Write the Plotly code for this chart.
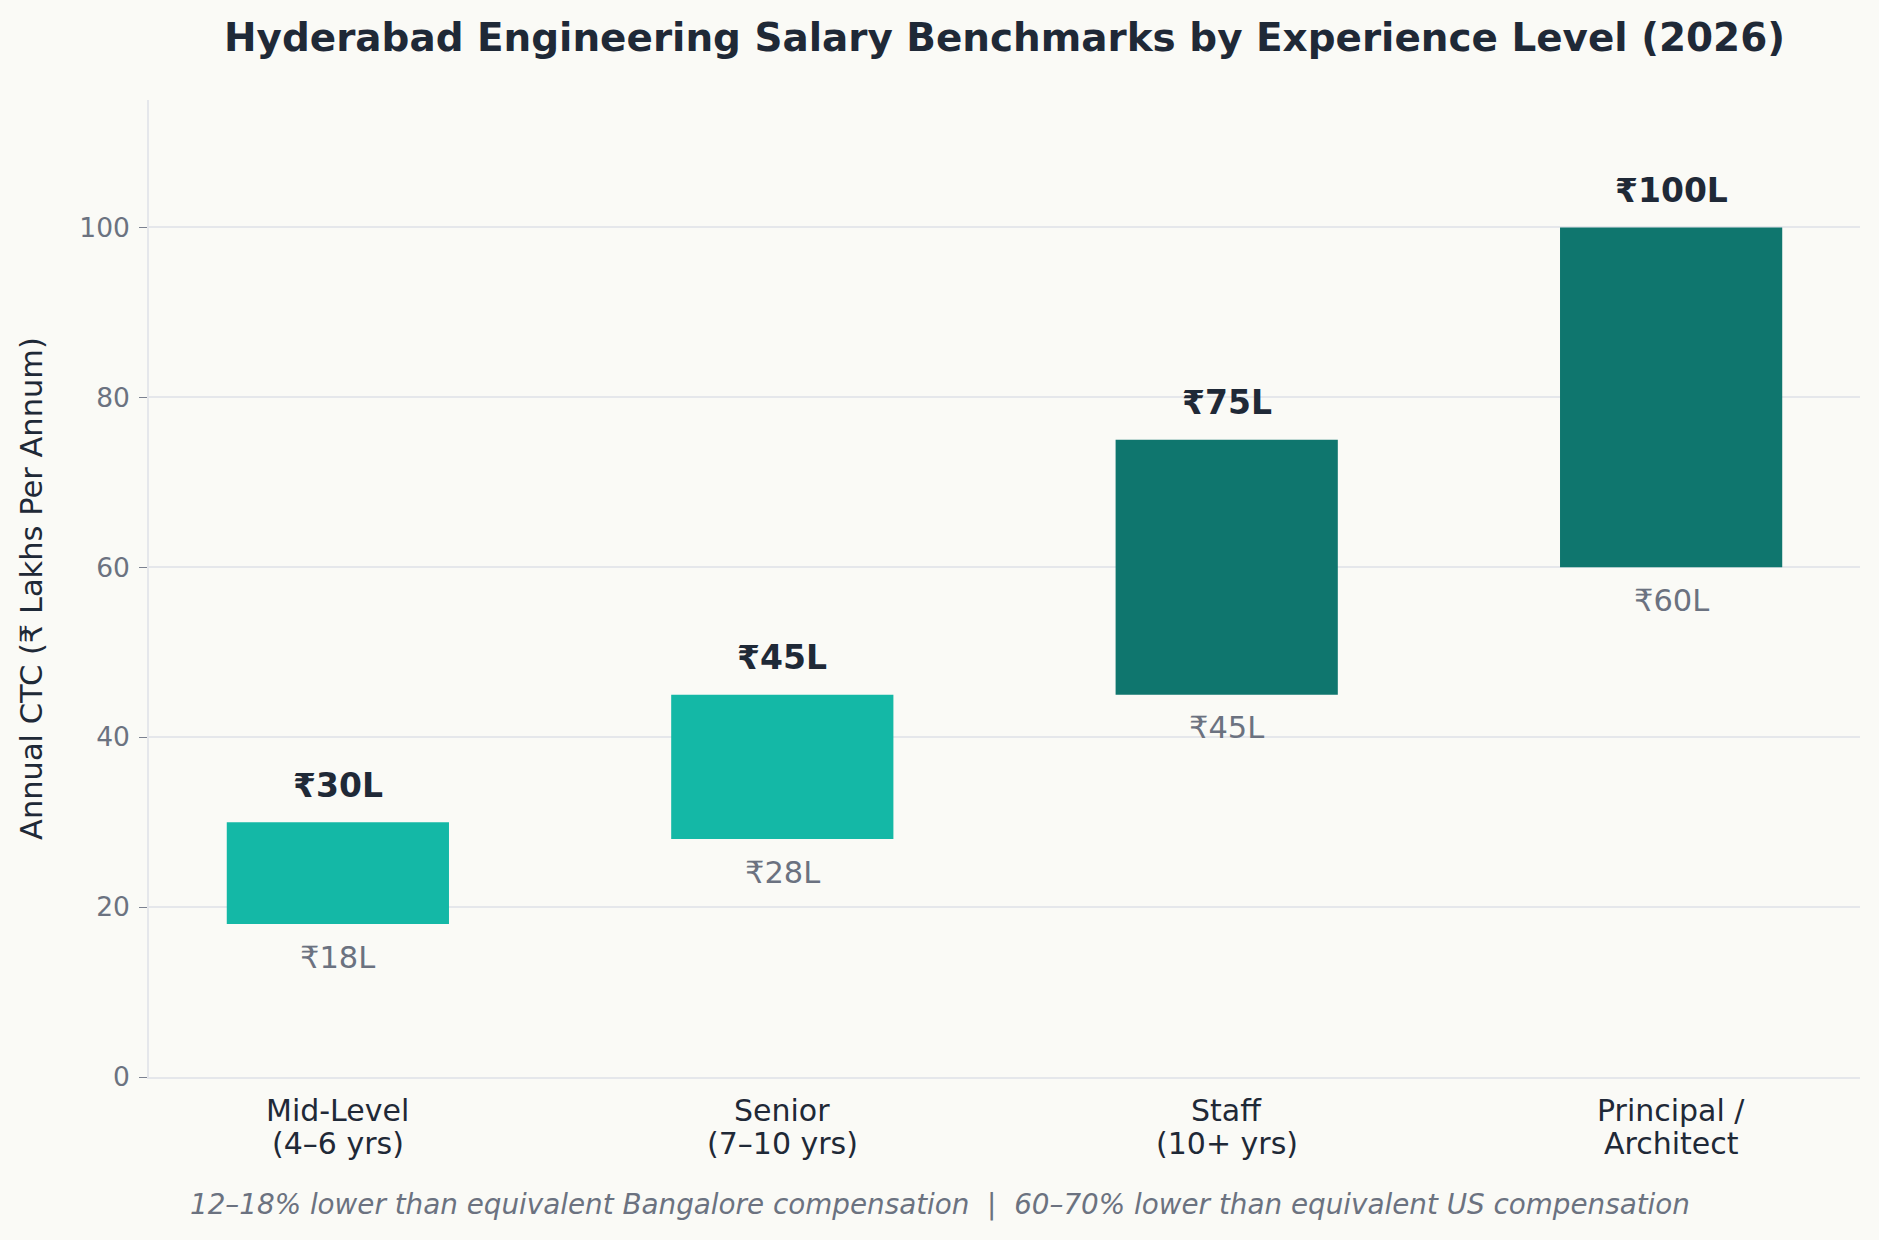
import plotly.graph_objects as go

cat_line1 = ["Mid-Level", "Senior", "Staff", "Principal /"]
cat_line2 = ["(4–6 yrs)", "(7–10 yrs)", "(10+ yrs)", "Architect"]
low_values = [18, 28, 45, 60]
high_values = [30, 45, 75, 100]
bar_colors = ["#14b8a6", "#14b8a6", "#0f766e", "#0f766e"]
y_ticks = [0, 20, 40, 60, 80, 100]

FONT = "DejaVu Sans"
DARK = "#1f2937"
GREY = "#6b7280"
BG = "#fafaf6"
GRID = "#e5e7eb"

PLOT_TOP, PLOT_BOTTOM = 100, 1077
PH = PLOT_BOTTOM - PLOT_TOP

x_idx = list(range(len(cat_line1)))
fig = go.Figure()
fig.add_trace(go.Bar(
    x=x_idx,
    y=[h - l for h, l in zip(high_values, low_values)],
    base=low_values,
    width=0.5,
    marker=dict(color=bar_colors, line=dict(width=0)),
    hoverinfo="skip",
))

annotations = []
for i, (l, h) in enumerate(zip(low_values, high_values)):
    annotations.append(dict(x=i, y=h, text=f"<b>₹{h}L</b>", showarrow=False,
                            xanchor="center", yanchor="middle", yshift=37,
                            font=dict(family=FONT, size=33, color=DARK)))
    annotations.append(dict(x=i, y=l, text=f"₹{l}L", showarrow=False,
                            xanchor="center", yanchor="middle", yshift=-33,
                            font=dict(family=FONT, size=30.5, color=GREY)))

for i, (a, b) in enumerate(zip(cat_line1, cat_line2)):
    annotations.append(dict(x=i, xref="x", y=-(1110 - PLOT_BOTTOM) / PH, yref="paper",
                            text=a, showarrow=False, xanchor="center", yanchor="middle",
                            font=dict(family=FONT, size=30, color=DARK)))
    annotations.append(dict(x=i, xref="x", y=-(1143 - PLOT_BOTTOM) / PH, yref="paper",
                            text=b, showarrow=False, xanchor="center", yanchor="middle",
                            font=dict(family=FONT, size=30, color=DARK)))

annotations.append(dict(
    x=(939.5 - 149) / 1711, y=-(1204 - PLOT_BOTTOM) / PH, xref="paper", yref="paper",
    text="<i>12–18% lower than equivalent Bangalore compensation  |  60–70% lower than equivalent US compensation</i>",
    showarrow=False, xanchor="center", yanchor="middle",
    font=dict(family=FONT, size=27.8, color=GREY)))

fig.update_layout(
    width=1879, height=1240,
    paper_bgcolor=BG, plot_bgcolor=BG,
    margin=dict(l=149, r=19, t=PLOT_TOP, b=1240 - PLOT_BOTTOM),
    showlegend=False,
    title=dict(text="<b>Hyderabad Engineering Salary Benchmarks by Experience Level (2026)</b>",
               x=0.5, xanchor="center", y=1 - 37 / 1240, yanchor="middle",
               xref="paper",
               font=dict(family=FONT, size=38.9, color=DARK)),
    font=dict(family=FONT, color=DARK),
    xaxis=dict(
        tickmode="array", tickvals=x_idx, ticktext=cat_line1,
        showticklabels=False,
        range=[-0.425, 3.425],
        showgrid=False, zeroline=False,
        showline=True, linecolor=GRID, linewidth=1.5,
        ticks="",
    ),
    yaxis=dict(
        range=[0, 115], tickmode="array", tickvals=y_ticks,
        showgrid=True, gridcolor=GRID, gridwidth=1.6,
        zeroline=False,
        showline=True, linecolor=GRID, linewidth=1.5,
        ticks="outside", ticklen=8, tickcolor="#7b8190", tickwidth=1.2,
        tickfont=dict(family=FONT, size=26.5, color=GREY),
        ticklabelstandoff=4,
        title=dict(text="Annual CTC (₹ Lakhs Per Annum)", standoff=28,
                   font=dict(family=FONT, size=30.5, color=DARK)),
    ),
    annotations=annotations,
)

fig.write_html("out.html")
